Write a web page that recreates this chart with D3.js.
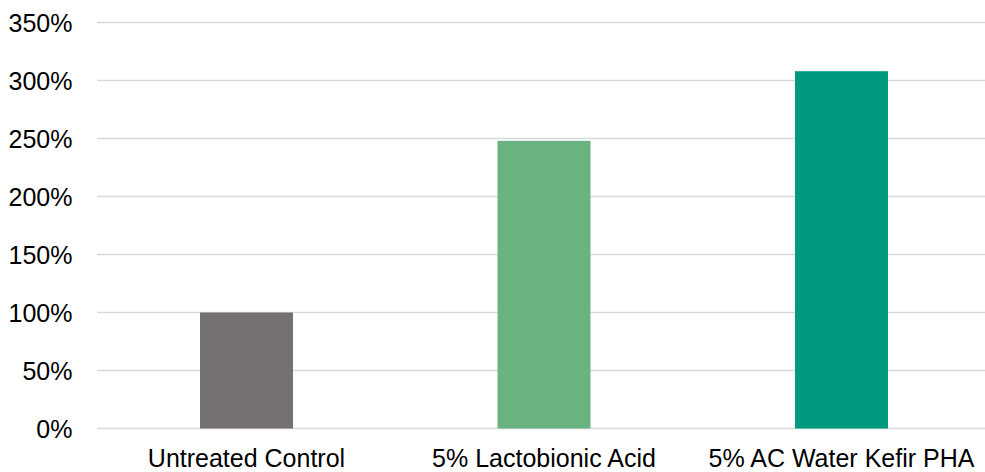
<!DOCTYPE html>
<html>
<head>
<meta charset="utf-8">
<script src="https://cdn.jsdelivr.net/npm/d3@7"></script>
<style>
  html, body { margin: 0; padding: 0; background: #fff; }
  svg { display: block; }
  text { font-family: "Liberation Sans", Arial, sans-serif; fill: #000; }
</style>
</head>
<body>
<svg id="chart" width="985" height="472"></svg>
<script>
const categories = ["Untreated Control", "5% Lactobionic Acid", "5% AC Water Kefir PHA"];
const values = [100, 248, 308];
const barColors = ["#767171", "#6BB281", "#009A7E"];
const yTicks = [0, 50, 100, 150, 200, 250, 300, 350];

const svg = d3.select("#chart");
const W = 985, H = 472;

const x = d3.scaleBand()
  .domain(categories)
  .range([97.75, 990.25])
  .paddingInner(0.6874)
  .paddingOuter(0.3437);

const y = d3.scaleLinear().domain([0, 350]).range([428.5, 22.5]);

// gridlines
svg.append("g")
  .selectAll("line")
  .data(yTicks)
  .join("line")
  .attr("x1", 97).attr("x2", W)
  .attr("y1", d => y(d)).attr("y2", d => y(d))
  .attr("stroke", "#d9d9d9")
  .attr("stroke-width", 1.5);

// y labels
svg.append("g")
  .selectAll("text")
  .data(yTicks)
  .join("text")
  .attr("x", 72.5)
  .attr("y", d => y(d) + 9)
  .attr("text-anchor", "end")
  .attr("font-size", 25)
  .text(d => d + "%");

// bars
svg.append("g")
  .selectAll("rect")
  .data(values)
  .join("rect")
  .attr("x", (d, i) => x(categories[i]))
  .attr("width", x.bandwidth())
  .attr("y", d => y(d))
  .attr("height", d => y(0) - y(d))
  .attr("fill", (d, i) => barColors[i]);

// x labels
svg.append("g")
  .selectAll("text")
  .data(categories)
  .join("text")
  .attr("x", d => x(d) + x.bandwidth() / 2)
  .attr("y", 467)
  .attr("text-anchor", "middle")
  .attr("font-size", 25)
  .text(d => d);
</script>
</body>
</html>
